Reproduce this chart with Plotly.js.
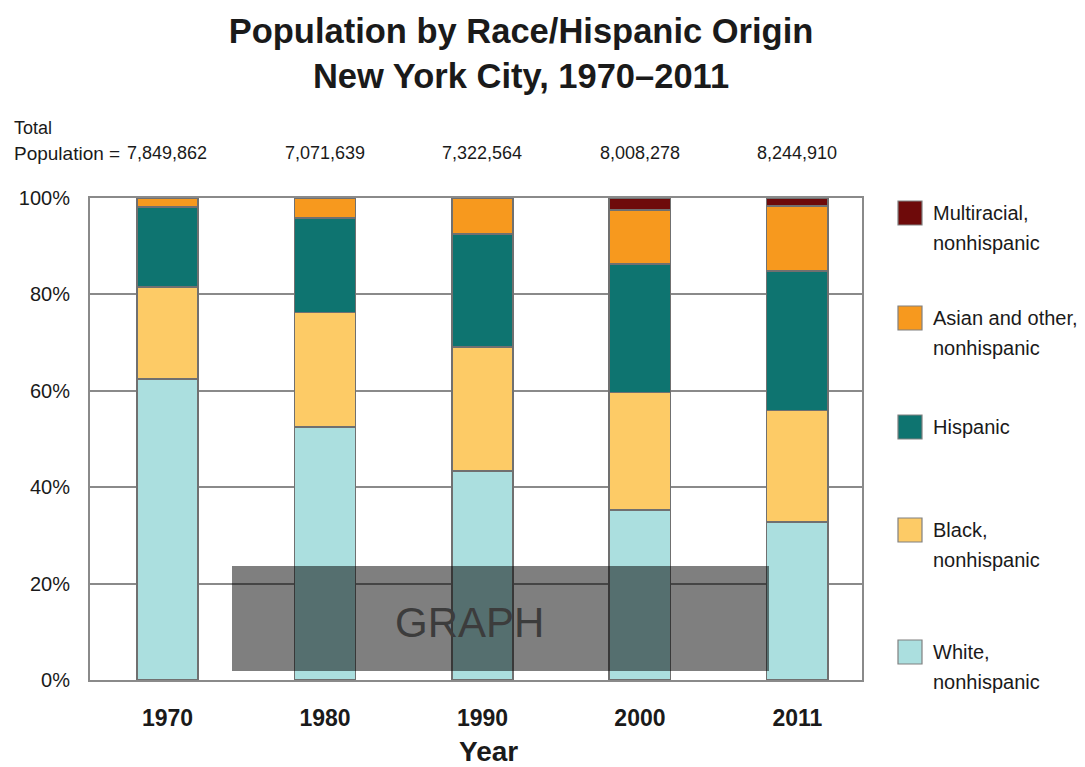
<!DOCTYPE html>
<html>
<head>
<meta charset="utf-8">
<script src="https://cdn.plot.ly/plotly-3.0.1.min.js"></script>
<style>html,body{margin:0;padding:0;background:#fff;}#chart{width:1085px;height:767px;}</style>
</head>
<body>
<div id="chart"></div>
<script>
// ---- data (percent of total population) ----
const years = ['1970', '1980', '1990', '2000', '2011'];
const totals = ['7,849,862', '7,071,639', '7,322,564', '8,008,278', '8,244,910'];
const whiteNH = [62.4, 52.5, 43.4, 35.3, 32.8];
const blackNH = [19.1, 23.7, 25.7, 24.3, 23.1];
const hispanic = [16.6, 19.6, 23.4, 26.7, 29.0];
const asianNH = [1.9, 4.2, 7.5, 11.2, 13.4];
const multiNH = [0, 0, 0, 2.5, 1.7];
const yTickVals = [0, 20, 40, 60, 80, 100];
const yTickText = ['0%', '20%', '40%', '60%', '80%', '100%'];
const seriesNames = ['White,<br>nonhispanic', 'Black,<br>nonhispanic', 'Hispanic', 'Asian and other,<br>nonhispanic', 'Multiracial,<br>nonhispanic'];
const seriesColors = ['#abdfdf', '#fdcb66', '#0e7470', '#f7991e', '#6e0a0a'];
const seriesValues = [whiteNH, blackNH, hispanic, asianNH, multiNH];

// ---- layout helpers (pixel -> paper) ----
const W = 1085, H = 767;
const L = 90, R = 862, T = 198, B = 680;
const px = x => (x - L) / (R - L);
const py = y => (B - y) / (B - T);
const FONT = '"Liberation Sans", Arial, sans-serif';
const TXT = '#1a1a1a';

const traces = seriesValues.map((vals, i) => ({
  type: 'bar',
  name: seriesNames[i].replace('<br>', ' '),
  x: years,
  y: vals,
  width: 0.39,
  marker: {color: seriesColors[i], line: {color: '#707070', width: 1.5}},
  showlegend: false,
  hoverinfo: 'x+y'
}));

// custom legend (top-to-bottom order: reverse of stacking)
const legendTopPx = [201, 306, 415, 518, 640];
const shapes = [];
const annotations = [];
for (let k = 0; k < 5; k++) {
  const i = 4 - k;
  const top = legendTopPx[k];
  shapes.push({type: 'rect', xref: 'paper', yref: 'paper',
    x0: px(898), x1: px(922), y0: py(top + 24), y1: py(top),
    fillcolor: seriesColors[i], line: {color: '#808080', width: 1.2}});
  seriesNames[i].split('<br>').forEach((line, j) => {
    annotations.push({xref: 'paper', yref: 'paper', x: px(931), y: py(top + 12 + j * 30),
      xanchor: 'left', yanchor: 'middle', align: 'left', showarrow: false,
      text: line, font: {family: FONT, size: 20, color: TXT}});
  });
}

// total population row
annotations.push({xref: 'paper', yref: 'paper', x: px(12), y: py(128), xanchor: 'left', yanchor: 'middle',
  showarrow: false, text: 'Total', font: {family: FONT, size: 18, color: TXT}});
annotations.push({xref: 'paper', yref: 'paper', x: px(12), y: py(153), xanchor: 'left', yanchor: 'middle',
  showarrow: false, text: 'Population =', font: {family: FONT, size: 19, color: TXT}});
years.forEach((yr, i) => {
  annotations.push({xref: 'x', yref: 'paper', x: i, y: py(153), xanchor: 'center', yanchor: 'middle',
    showarrow: false, text: totals[i], font: {family: FONT, size: 18, color: TXT}});
});

// x axis title
annotations.push({xref: 'paper', yref: 'paper', x: px(488), y: py(751), xanchor: 'center', yanchor: 'middle',
  showarrow: false, text: '<b>Year</b>', font: {family: FONT, size: 28, color: TXT}});

// GRAPH watermark overlay
shapes.push({type: 'rect', xref: 'paper', yref: 'paper', layer: 'above',
  x0: px(232), x1: px(769), y0: py(671), y1: py(566),
  fillcolor: 'rgba(0,0,0,0.5)', line: {width: 0}});
annotations.push({xref: 'paper', yref: 'paper', x: px(469), y: py(622), xanchor: 'center', yanchor: 'middle',
  showarrow: false, text: 'GRAPH', font: {family: FONT, size: 42, color: '#3c3c3c'}});

const layout = {
  width: W, height: H,
  margin: {l: L, r: W - R, t: T, b: H - B, pad: 0},
  paper_bgcolor: '#ffffff', plot_bgcolor: '#ffffff',
  barmode: 'stack',
  title: {
    text: '<b>Population by Race/Hispanic Origin<br>New York City, 1970–2011</b>',
    x: px(521), xref: 'paper', xanchor: 'center',
    y: 1 - 43 / H, yref: 'container', yanchor: 'middle',
    font: {family: FONT, size: 34.5, color: TXT}
  },
  xaxis: {
    type: 'category', range: [-0.492, 4.41],
    showgrid: false, zeroline: false,
    showline: true, linecolor: '#8a8a8a', linewidth: 2, mirror: true,
    ticks: '', ticklabelstandoff: 16,
    tickfont: {family: FONT, size: 23, color: TXT, weight: 'bold'}
  },
  yaxis: {
    range: [0, 100], tickmode: 'array', tickvals: yTickVals, ticktext: yTickText,
    showgrid: true, gridcolor: '#8a8a8a', gridwidth: 2, zeroline: false,
    showline: true, linecolor: '#8a8a8a', linewidth: 2, mirror: true,
    ticks: '', ticklabelstandoff: 14,
    tickfont: {family: FONT, size: 20, color: TXT}
  },
  shapes: shapes,
  annotations: annotations,
  showlegend: false
};

Plotly.newPlot('chart', traces, layout, {displayModeBar: false, staticPlot: true});
</script>
</body>
</html>
